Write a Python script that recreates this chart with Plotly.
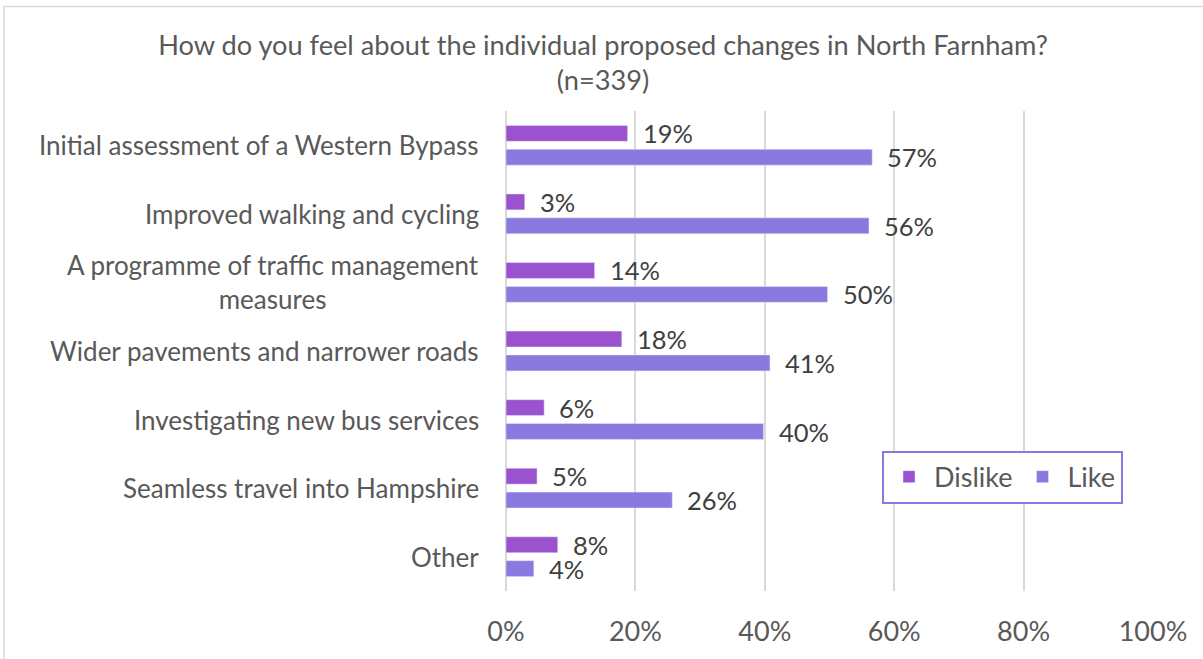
import plotly.graph_objects as go

categories = [
    "Initial assessment of a Western Bypass",
    "Improved walking and cycling",
    "A programme of traffic management<br>measures",
    "Wider pavements and narrower roads",
    "Investigating new bus services",
    "Seamless travel into Hampshire",
    "Other",
]
dislike = [0.188, 0.029, 0.137, 0.179, 0.059, 0.048, 0.080]
like = [0.566, 0.561, 0.497, 0.408, 0.398, 0.257, 0.043]
x_ticks = [0, 0.2, 0.4, 0.6, 0.8, 1.0]
x_tick_labels = ["0%", "20%", "40%", "60%", "80%", "100%"]

FONT = "Lato"
TEXT = "#595959"
LABEL = "#404040"
C_DIS = "#9B52CF"
C_LIKE = "#8B79E0"

W, H = 1203, 659
L, R, T, B = 506, 50, 111, 66
pw, ph = W - L - R, H - T - B

fig = go.Figure()
fig.add_trace(go.Bar(name="Dislike", y=categories, x=dislike, orientation="h",
                     marker=dict(color=C_DIS)))
fig.add_trace(go.Bar(name="Like", y=categories, x=like, orientation="h",
                     marker=dict(color=C_LIKE)))

ann = []
for c, v in zip(categories, dislike):
    ann.append(dict(x=v, y=c, xref="x", yref="y", text=f"{v:.0%}", showarrow=False,
                    xanchor="left", yanchor="middle", xshift=13, yshift=12,
                    font=dict(family=FONT, size=25.5, color=LABEL)))
for c, v in zip(categories, like):
    ann.append(dict(x=v, y=c, xref="x", yref="y", text=f"{v:.0%}", showarrow=False,
                    xanchor="left", yanchor="middle", xshift=13, yshift=-12,
                    font=dict(family=FONT, size=25.5, color=LABEL)))
for c in categories:
    ann.append(dict(x=0, y=c, xref="paper", yref="y", text=c, showarrow=False,
                    xanchor="right", yanchor="middle", align="center", xshift=-25,
                    font=dict(family=FONT, size=26, color=TEXT)))

# chart border
shapes = [dict(type="rect", xref="paper", yref="paper",
               x0=(4 - L) / pw, x1=(W + 5 - L) / pw,
               y0=(H - B - (H + 5)) / ph, y1=(H - B - 6) / ph,
               line=dict(color="#D9D9D9", width=1.5), fillcolor="rgba(0,0,0,0)",
               layer="below")]

fig.update_layout(
    width=W, height=H,
    margin=dict(l=L, r=R, t=T, b=B),
    paper_bgcolor="white", plot_bgcolor="white",
    barmode="group", bargap=0.304, bargroupgap=0.333,
    title=dict(text="How do you feel about the individual proposed changes in North Farnham?<br>(n=339)",
               x=(603 - L) / pw, xref="paper", xanchor="center",
               y=1 - 55 / H, yanchor="top",
               font=dict(family=FONT, size=27.2, color=TEXT)),
    xaxis=dict(range=[0, 1], tickvals=x_ticks, ticktext=x_tick_labels,
               showgrid=True, gridcolor="#D9D9D9", gridwidth=1.5,
               zeroline=True, zerolinecolor="#D9D9D9", zerolinewidth=1.5,
               showline=False, ticks="", ticklabelstandoff=22,
               tickfont=dict(family=FONT, size=27, color=TEXT)),
    yaxis=dict(autorange="reversed", showticklabels=False, showgrid=False,
               zeroline=False, showline=False, ticks=""),
    legend=dict(orientation="h", x=(882 - L) / pw, y=(H - B - 452) / ph,
                xanchor="left", yanchor="top",
                bordercolor=C_LIKE, borderwidth=2, bgcolor="white",
                font=dict(family=FONT, size=27, color=TEXT),
                itemwidth=40, traceorder="normal"),
    annotations=ann, shapes=shapes,
)

fig.write_html("out.html", config={"displayModeBar": False},
               post_script="document.body.style.margin='0';")
